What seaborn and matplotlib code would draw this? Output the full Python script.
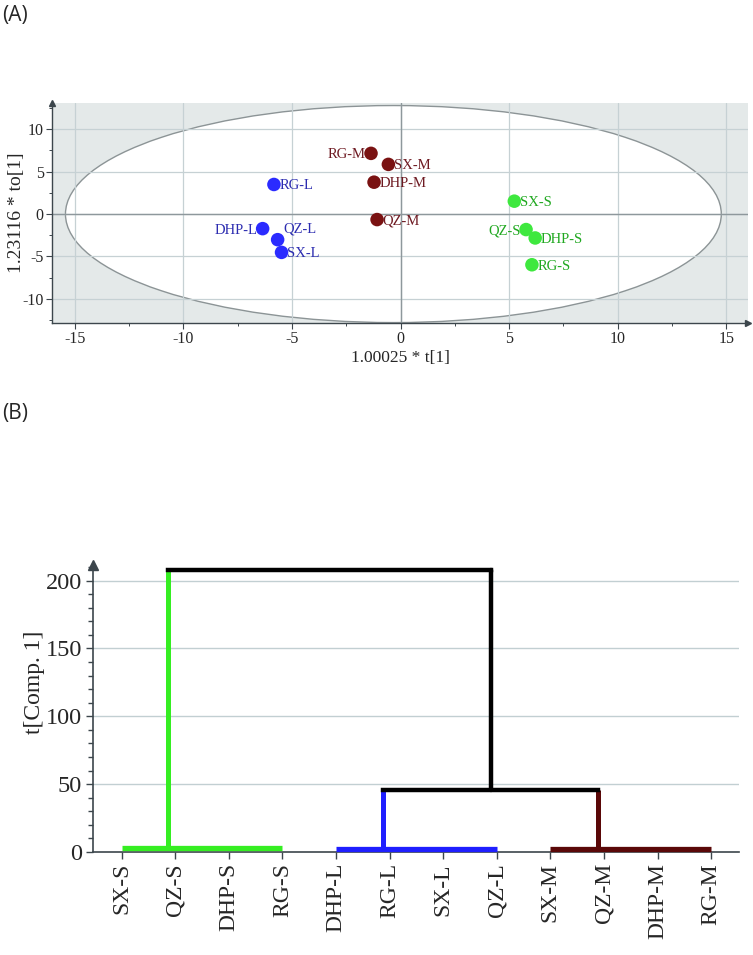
import numpy as np
import pandas as pd
import matplotlib
matplotlib.use("Agg")
import matplotlib.pyplot as plt
from matplotlib.patches import Ellipse
import seaborn as sns

# ---------------- data: (A) OPLS-DA score plot ----------------
score_names = ["RG-M", "SX-M", "DHP-M", "QZ-M",
               "RG-L", "DHP-L", "QZ-L", "SX-L",
               "SX-S", "QZ-S", "DHP-S", "RG-S"]
t1 = [-1.36, -0.56, -1.22, -1.08,
      -5.83, -6.35, -5.66, -5.48,
      5.24, 5.78, 6.20, 6.05]
to1 = [7.16, 5.86, 3.76, -0.65,
       3.49, -1.72, -3.02, -4.52,
       1.52, -1.83, -2.82, -5.98]
score_group = ["M", "M", "M", "M", "L", "L", "L", "L", "S", "S", "S", "S"]
x_ticks_a = [-15, -10, -5, 0, 5, 10, 15]
y_ticks_a = [-10, -5, 0, 5, 10]
ellipse_center = (-0.33, 0.0)
ellipse_axes = (15.1, 12.8)

# ---------------- data: (B) dendrogram ----------------
leaf_labels = ["SX-S", "QZ-S", "DHP-S", "RG-S",
               "DHP-L", "RG-L", "SX-L", "QZ-L",
               "SX-M", "QZ-M", "DHP-M", "RG-M"]
cluster_names = ["S", "L", "M"]
cluster_first = [0, 4, 8]
cluster_last = [3, 7, 11]
cluster_base = [2.6, 2.3, 2.3]
cluster_node = [0.87, 4.87, 8.88]
lm_height = 45.8
lm_node = 6.89
top_height = 207.5
y_ticks_b = [0, 50, 100, 150, 200]

# ---------------- style ----------------
pt_col = {"M": "#7a1212", "L": "#2b2bff", "S": "#3ee83e"}
lab_col = {"M": "#6e1a22", "L": "#2c2cb0", "S": "#20a820"}
dend_col = {"S": "#35ee22", "L": "#1f1fff", "M": "#5a0808"}
serif = ["Liberation Serif", "DejaVu Serif"]

sns.set_style("white")
plt.rcParams["font.family"] = serif
plt.rcParams["axes.unicode_minus"] = False

fig = plt.figure(figsize=(7.53, 9.55), dpi=100)

# ================= panel A =================
axA = fig.add_axes([52 / 753, 1 - 323 / 955, 696 / 753, 220 / 955])
axA.set_facecolor("#e4e9e9")
axA.set_xlim(-16.05, 16.0)
axA.set_ylim(-12.85, 13.1)
ell = Ellipse(ellipse_center, 2 * ellipse_axes[0], 2 * ellipse_axes[1],
              facecolor="white", edgecolor="#8c9496", lw=1.0, zorder=0.5)
axA.add_patch(ell)
for xv in x_ticks_a:
    axA.axvline(xv, color="#c6d1d4", lw=0.9, zorder=0.8)
for yv in y_ticks_a:
    axA.axhline(yv, color="#c6d1d4", lw=0.9, zorder=0.8)
axA.axvline(0, color="#8e989c", lw=1.0, zorder=0.9)
axA.axhline(0, color="#8e989c", lw=1.0, zorder=0.9)

df = pd.DataFrame({"t1": t1, "to1": to1, "name": score_names, "group": score_group})
sns.scatterplot(data=df, x="t1", y="to1", hue="group", palette=pt_col,
                s=95, edgecolor="none", legend=False, ax=axA, zorder=3)

left_labels = {"RG-M", "DHP-L", "QZ-S"}
for _, r in df.iterrows():
    if r["name"] in left_labels:
        off, ha = (-4, -1), "right"
    elif r["name"] == "QZ-L":
        off, ha = (4, 8), "left"
    else:
        off, ha = (4, -1), "left"
    axA.annotate(r["name"], (r["t1"], r["to1"]), xytext=off,
                 textcoords="offset points", ha=ha, va="center",
                 fontsize=10.5, color=lab_col[r["group"]], zorder=4)

axA.set_xticks(x_ticks_a)
axA.set_xticks(np.arange(-15, 15.1, 2.5), minor=True)
axA.set_yticks(y_ticks_a)
axA.set_yticks(np.arange(-12.5, 12.6, 2.5), minor=True)
axA.tick_params(axis="both", which="major", direction="out", length=4, width=0.8,
                color="#3c464c", labelsize=11.5, pad=2, bottom=True, left=True)
axA.tick_params(axis="both", which="minor", direction="out", length=2.5, width=0.7,
                color="#3c464c", bottom=True, left=True)
axA.set_xticklabels([str(v) for v in x_ticks_a])
axA.set_yticklabels([str(v) for v in y_ticks_a])
for s in ["top", "right"]:
    axA.spines[s].set_visible(False)
for s in ["left", "bottom"]:
    axA.spines[s].set_color("#3c464c")
    axA.spines[s].set_linewidth(1.0)
axA.plot(1, 0, marker=">", ms=5, color="#3c464c", transform=axA.transAxes, clip_on=False)
axA.plot(0, 1, marker="^", ms=5, color="#3c464c", transform=axA.transAxes, clip_on=False)
axA.set_xlabel("1.00025 * t[1]", fontsize=12.5, labelpad=2)
axA.set_ylabel("1.23116 * to[1]", fontsize=14)
axA.yaxis.set_label_coords(-27 / 696, 0.5)

# ================= panel B =================
axB = fig.add_axes([93 / 753, 1 - 852 / 955, 646 / 753, (852 - 565) / 955])
axB.set_facecolor("white")
axB.set_xlim(-0.535, 11.52)
axB.set_ylim(0, 211.5)
for yv in y_ticks_b[1:]:
    axB.axhline(yv, color="#c2cfd2", lw=1.0, zorder=0.5)

x_leaf = np.arange(len(leaf_labels))
for c, f, l, b, nd in zip(cluster_names, cluster_first, cluster_last, cluster_base, cluster_node):
    axB.plot([x_leaf[f], x_leaf[l]], [b, b], color=dend_col[c], lw=3.8,
             solid_capstyle="butt", zorder=3, clip_on=False)
    h = top_height if c == "S" else lm_height
    axB.plot([nd, nd], [b, h], color=dend_col[c], lw=3.6, solid_capstyle="butt", zorder=3)
# L-M merge and top merge (black)
axB.plot([cluster_node[1], cluster_node[2]], [lm_height, lm_height], color="black",
         lw=3.2, solid_capstyle="projecting", zorder=4)
axB.plot([lm_node, lm_node], [lm_height, top_height], color="black", lw=3.2, zorder=4)
axB.plot([cluster_node[0], lm_node], [top_height, top_height], color="black",
         lw=3.2, solid_capstyle="projecting", zorder=4)

axB.set_xticks(x_leaf)
axB.set_xticklabels(leaf_labels, rotation=90, fontsize=17)
axB.set_yticks(y_ticks_b)
axB.set_yticks(np.arange(0, 211, 10), minor=True)
axB.set_yticklabels([str(v) for v in y_ticks_b], fontsize=17.5)
axB.tick_params(axis="both", which="major", direction="out", length=5, width=1.0,
                color="#3c464c", pad=3, bottom=True, left=True)
axB.tick_params(axis="y", which="minor", direction="out", length=3.5, width=1.0,
                color="#3c464c", left=True)
for s in ["top", "right"]:
    axB.spines[s].set_visible(False)
for s in ["left", "bottom"]:
    axB.spines[s].set_color("#3c464c")
    axB.spines[s].set_linewidth(1.2)
axB.plot(0, 1, marker="^", ms=7, color="#3c464c", transform=axB.transAxes, clip_on=False)
axB.set_ylabel("t[Comp. 1]", fontsize=17, labelpad=2)
axB.yaxis.set_label_coords(-0.075, 0.59)

# panel letters
fig.text(2 / 753, 1 - 16 / 955, "(A)", fontsize=15, family=["Open Sans", "DejaVu Sans"],
         va="center", ha="left")
fig.text(2 / 753, 1 - 414 / 955, "(B)", fontsize=15, family=["Open Sans", "DejaVu Sans"],
         va="center", ha="left")

fig.savefig("out.png", dpi=100)
